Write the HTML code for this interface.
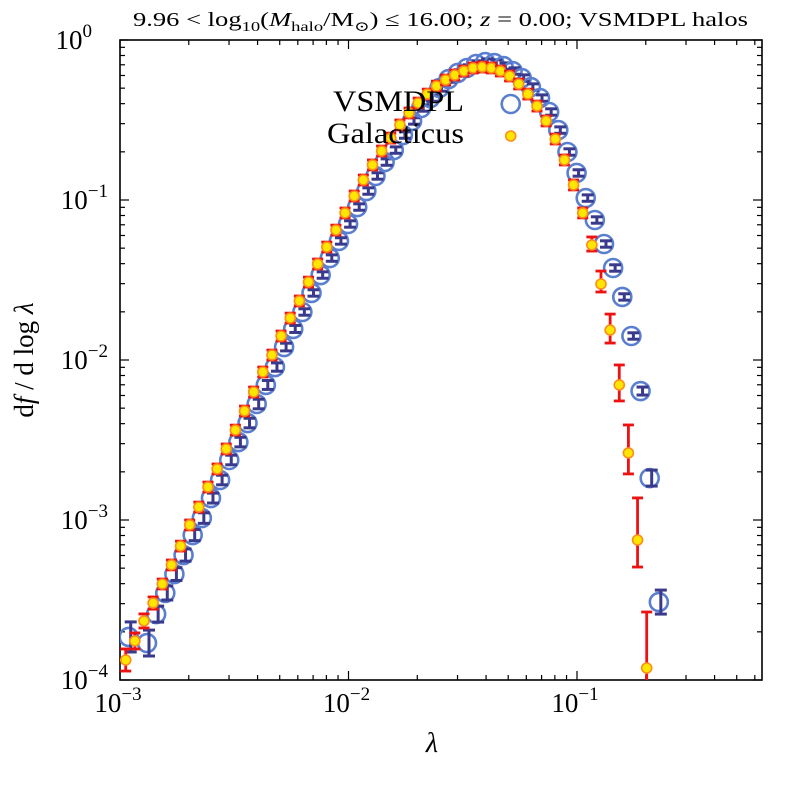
<!DOCTYPE html>
<html><head><meta charset="utf-8"><style>
html,body{margin:0;padding:0;background:#fff}
svg{display:block}
text{font-family:"Liberation Serif","DejaVu Serif",serif;fill:#000}
</style></head><body>
<svg id="chart" width="800" height="800" viewBox="0 0 800 800">
<text x="133" y="26" font-size="20" textLength="615" lengthAdjust="spacingAndGlyphs">9.96 &lt; log<tspan font-size="14" dy="5">10</tspan><tspan dy="-5">(</tspan><tspan font-style="italic">M</tspan><tspan font-size="14" dy="5">halo</tspan><tspan dy="-5">/M</tspan><tspan font-size="14" dy="5">⊙</tspan><tspan dy="-5">) ≤ 16.00; </tspan><tspan font-style="italic">z</tspan> = 0.00; VSMDPL halos</text>
<g id="plot"></g>
<text x="333" y="111" font-size="30" textLength="131" lengthAdjust="spacingAndGlyphs">VSMDPL</text>
<text x="327" y="143" font-size="30" textLength="137" lengthAdjust="spacingAndGlyphs">Galacticus</text>
<text x="432" y="752" font-size="28" font-style="italic" text-anchor="middle">λ</text>
<text transform="translate(33,360) rotate(-90)" font-size="27" text-anchor="middle">d<tspan font-style="italic">f</tspan> / d log <tspan font-style="italic">λ</tspan></text>
</svg>
<script>
// data (log10 values)
const binStart = -2.975;
const binWidth = 0.04;
const galLogF = [-3.875,-3.756,-3.631,-3.519,-3.4,-3.281,-3.163,-3.031,-2.919,-2.794,-2.681,-2.556,-2.438,-2.319,-2.2,-2.075,-1.969,-1.85,-1.738,-1.631,-1.513,-1.4,-1.294,-1.188,-1.081,-0.975,-0.875,-0.781,-0.694,-0.613,-0.531,-0.456,-0.394,-0.338,-0.288,-0.25,-0.219,-0.194,-0.175,-0.169,-0.175,-0.194,-0.225,-0.275,-0.338,-0.413,-0.506,-0.619,-0.75,-0.906,-1.081,-1.281,-1.525,-1.813,-2.156,-2.581,-3.125,-3.925];
const galErrLo = [0.069,0.05,0.044,0.038,0.031,0.031,0.031,0.031,0.031,0.031,0.031,0.031,0.031,0.031,0.031,0.031,0.031,0.031,0.031,0.031,0.031,0.031,0.031,0.031,0.031,0.031,0.031,0.031,0.031,0.031,0.031,0.031,0.031,0.031,0.031,0.031,0.031,0.031,0.031,0.031,0.031,0.031,0.031,0.031,0.031,0.031,0.031,0.031,0.031,0.031,0.031,0.038,0.05,0.081,0.1,0.131,0.169,0.194];
const galErrHi = [0.069,0.05,0.044,0.038,0.031,0.031,0.031,0.031,0.031,0.031,0.031,0.031,0.031,0.031,0.031,0.031,0.031,0.031,0.031,0.031,0.031,0.031,0.031,0.031,0.031,0.031,0.031,0.031,0.031,0.031,0.031,0.031,0.031,0.031,0.031,0.031,0.031,0.031,0.031,0.031,0.031,0.031,0.031,0.031,0.031,0.031,0.031,0.031,0.031,0.031,0.031,0.05,0.081,0.1,0.125,0.175,0.263,0.35];
const simLogF = [-3.731,null,-3.769,-3.588,-3.456,-3.338,-3.219,-3.094,-2.988,-2.863,-2.75,-2.625,-2.513,-2.394,-2.275,-2.156,-2.044,-1.919,-1.806,-1.7,-1.581,-1.469,-1.363,-1.256,-1.15,-1.044,-0.944,-0.85,-0.763,-0.688,-0.594,-0.506,-0.425,-0.363,-0.3,-0.244,-0.206,-0.175,-0.15,-0.138,-0.144,-0.163,-0.194,-0.238,-0.294,-0.363,-0.45,-0.563,-0.7,-0.831,-0.988,-1.125,-1.275,-1.425,-1.606,-1.85,-2.194,-2.738,-3.513];
const simErr = [0.094,0,0.081,0.05,0.044,0.04,0.038,0.035,0.033,0.031,0.03,0.03,0.03,0.03,0.03,0.028,0.026,0.024,0.022,0.02,0.02,0.02,0.02,0.02,0.02,0.02,0.02,0.02,0.02,0.02,0.02,0.02,0.02,0.02,0.02,0.02,0.02,0.02,0.02,0.02,0.02,0.02,0.02,0.02,0.02,0.02,0.02,0.02,0.02,0.02,0.02,0.02,0.02,0.02,0.02,0.02,0.025,0.05,0.075];
const outlierLogLambda = [-1.29, -1.29];
const outlierLogF = [-0.4, -0.6];
const xTickLabels = ["-3","-2","-1"];
const yTickLabels = ["0","-1","-2","-3","-4"];

const NS = "http://www.w3.org/2000/svg";
const X0 = 120, X1 = 762, Y0 = 40, Y1 = 680;
const xMinLog = -3, xPerDec = 228.5, yMaxLog = 0, yPerDec = 160;
function xs(l){ return X0 + (l - xMinLog) * xPerDec; }
function ys(l){ return Y0 + (yMaxLog - l) * yPerDec; }
const plot = document.getElementById('plot');
function mk(tag, attrs, parent){
  const e = document.createElementNS(NS, tag);
  for (const k in attrs) e.setAttribute(k, attrs[k]);
  (parent || plot).appendChild(e);
  return e;
}
const clip = mk('clipPath', {id:'clipArea'});
mk('rect', {x:X0, y:Y0, width:X1-X0, height:Y1-Y0}, clip);

const frame = mk('rect', {x:X0, y:Y0, width:X1-X0, height:Y1-Y0, fill:'none', stroke:'#000', 'stroke-width':1.6});



const tickG = mk('g', {stroke:'#000', 'stroke-width':1.2});


const xMaxLog = xMinLog + (X1 - X0) / xPerDec;
for (let d = -3; d <= 0; d++) {
  for (let m = 1; m <= 9; m++) {
    const l = d + Math.log10(m);
    if (l < xMinLog - 1e-9 || l > xMaxLog) continue;
    const x = xs(l), len = m === 1 ? 9 : 5;
    mk('line', {x1:x, x2:x, y1:Y1, y2:Y1-len}, tickG);
    mk('line', {x1:x, x2:x, y1:Y0, y2:Y0+len}, tickG);
  }
}
for (let d = -4; d <= 0; d++) {
  for (let m = 1; m <= 9; m++) {
    const l = d + Math.log10(m);
    if (l > 0 + 1e-9) continue;
    const y = ys(l), len = m === 1 ? 9 : 5;
    mk('line', {x1:X0, x2:X0+len, y1:y, y2:y}, tickG);
    mk('line', {x1:X1, x2:X1-len, y1:y, y2:y}, tickG);
  }
}
xTickLabels.forEach(function(t){
  const tx = mk('text', {x:xs(+t)-2, y:Y1+32, 'font-size':27, 'text-anchor':'middle'});
  
  
  tx.innerHTML = '10<tspan font-size="19" dy="-12">' + t.replace('-', '−') + '</tspan>';
});
yTickLabels.forEach(function(t){
  const tx = mk('text', {x:X0-12, y:ys(+t)+9, 'font-size':27, 'text-anchor':'end'});
  
  
  tx.innerHTML = '10<tspan font-size="19" dy="-12">' + t.replace('-', '−') + '</tspan>';
  if (t === '0') { tx.setAttribute('x', X0 - 28); }
});

const data = mk('g', {'clip-path':'url(#clipArea)'});
const simG = mk('g', {}, data);


simLogF.forEach(function(v, i){
  if (v === null) return;
  const x = xs(binStart + binWidth * i) + 3, y = ys(v);
  const c = mk('circle', {cx:x, cy:y, r:9, fill:'none', stroke:'#5a7fd0', 'stroke-width':2.6}, simG);
  
  
  const e = simErr[i] * yPerDec, ex = x + 2;
  const eg = mk('g', {stroke:'#3a3a8c', 'stroke-width':3}, simG);
  
  
  mk('line', {x1:ex, x2:ex, y1:y-e, y2:y+e}, eg);
  mk('line', {x1:ex-6, x2:ex+6, y1:y-e, y2:y-e}, eg);
  mk('line', {x1:ex-6, x2:ex+6, y1:y+e, y2:y+e}, eg);
});
const o1 = mk('circle', {cx:xs(outlierLogLambda[0]), cy:ys(outlierLogF[0]), r:9, fill:'none', stroke:'#5a7fd0', 'stroke-width':2.6}, simG);



const galG = mk('g', {}, data);


function yellow(x, y){
  const c = mk('circle', {cx:x, cy:y, r:5, fill:'#ffe600', stroke:'#ff8c1a', 'stroke-width':1.6}, galG);
  
  
}
galLogF.forEach(function(v, i){
  const x = xs(binStart + binWidth * i), y = ys(v);
  const lo = y + galErrLo[i] * yPerDec, hi = y - galErrHi[i] * yPerDec;
  const eg = mk('g', {stroke:'#ee1111', 'stroke-width':2.8}, galG);
  
  
  mk('line', {x1:x, x2:x, y1:hi, y2:lo}, eg);
  mk('line', {x1:x-5.5, x2:x+5.5, y1:hi, y2:hi}, eg);
  mk('line', {x1:x-5.5, x2:x+5.5, y1:lo, y2:lo}, eg);
  yellow(x, y);
});
yellow(xs(outlierLogLambda[1]), ys(outlierLogF[1]));
</script>
</body></html>
